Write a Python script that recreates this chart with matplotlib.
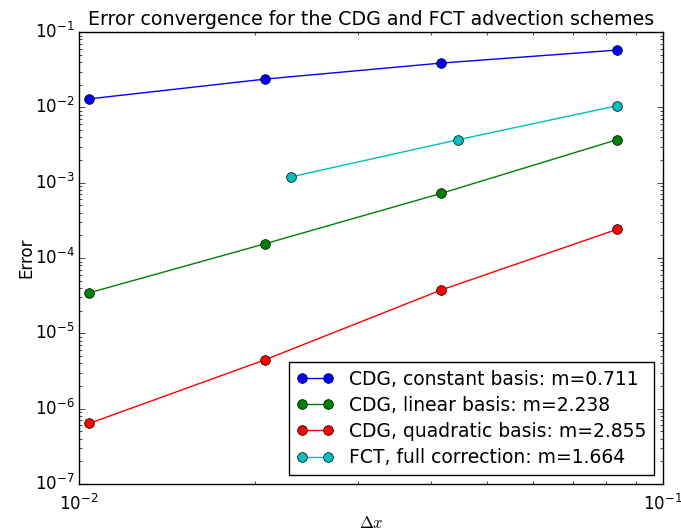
import matplotlib
matplotlib.use("Agg")
import matplotlib.pyplot as plt

plt.style.use("classic")

# grid spacings and errors for each scheme
dx_cdg = [1 / 96, 1 / 48, 1 / 24, 1 / 12]
err_constant = [1.30e-2, 2.38e-2, 3.88e-2, 5.77e-2]
err_linear = [3.46e-5, 1.55e-4, 7.21e-4, 3.72e-3]
err_quadratic = [6.38e-7, 4.47e-6, 3.76e-5, 2.40e-4]

dx_fct = [0.0231, 0.0446, 1 / 12]
err_fct = [1.20e-3, 3.73e-3, 1.05e-2]

labels = [
    "CDG, constant basis: m=0.711",
    "CDG, linear basis: m=2.238",
    "CDG, quadratic basis: m=2.855",
    "FCT, full correction: m=1.664",
]

fig = plt.figure(figsize=(6.81, 5.31), dpi=100)
fig.patch.set_facecolor("white")
ax = fig.add_axes([0.116, 0.0885, 0.8576, 0.851])

kw = dict(marker="o", markersize=7, markeredgewidth=0.5, markeredgecolor="k", linewidth=1)
ax.loglog(dx_cdg, err_constant, color="b", label=labels[0], **kw)
ax.loglog(dx_cdg, err_linear, color="g", label=labels[1], **kw)
ax.loglog(dx_cdg, err_quadratic, color="r", label=labels[2], **kw)
ax.loglog(dx_fct, err_fct, color="c", label=labels[3], **kw)

ax.set_xlim(1e-2, 1e-1)
ax.set_ylim(1e-7, 1e-1)
ax.tick_params(labelsize=12)
ax.tick_params(axis="x", pad=7)
ax.tick_params(axis="y", pad=3)
ax.set_title("Error convergence for the CDG and FCT advection schemes", fontsize=13.7)
ax.set_xlabel(r"$\Delta x$", fontsize=12, labelpad=0)
ax.set_ylabel("Error", fontsize=12, labelpad=0)
ax.legend(loc="lower right", numpoints=2, fontsize=13.5, fancybox=False,
          labelspacing=0.38, borderaxespad=0.5)

fig.savefig("out.png", dpi=100, facecolor="white")
